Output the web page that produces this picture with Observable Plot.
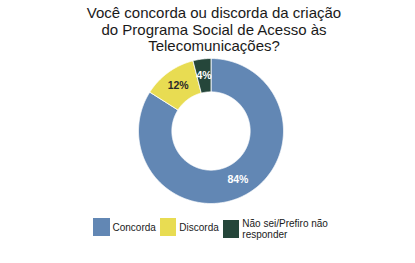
<!DOCTYPE html>
<html>
<head>
<meta charset="utf-8">
<script src="https://cdn.jsdelivr.net/npm/d3@7"></script>
<script src="https://cdn.jsdelivr.net/npm/@observablehq/plot@0.6"></script>
<style>
  html, body { margin: 0; padding: 0; background: #fff; }
  body { width: 415px; height: 263px; position: relative; overflow: hidden; font-family: "Liberation Sans", Arial, sans-serif; }
  #title { position: absolute; left: 13px; top: 5px; width: 402px; text-align: center; font-size: 15px; line-height: 16.5px; color: #1a1a1a; }
  #chart { position: absolute; left: 0; top: 56px; }
  #legend { position: absolute; left: 93px; top: 218px; display: flex; align-items: flex-start; font-size: 10px; line-height: 11px; color: #1a1a1a; }
  .item { display: flex; align-items: center; margin-right: 4px; }
  .sw { width: 16.5px; height: 18px; margin-right: 3px; flex: none; }
  .lab { max-width: 92px; }
</style>
</head>
<body>
<div id="title"></div>
<div id="chart"></div>
<div id="legend"></div>
<script>
const titleLines = ["Você concorda ou discorda da criação", "do Programa Social de Acesso às", "Telecomunicações?"];
const categories = ["Concorda", "Discorda", "Não sei/Prefiro não responder"];
const values = [84, 12, 4];
const labels = ["84%", "12%", "4%"];
const colors = ["#6287b4", "#e8dc52", "#25463a"];
const labelColors = ["#ffffff", "#2a2a2a", "#ffffff"];

document.getElementById("title").innerHTML = titleLines.join("<br>");

const innerR = 0.54, outerR = 1;
const total = d3.sum(values);
let acc = 0;
const slices = categories.map((c, i) => {
  const a0 = acc / total * 2 * Math.PI;
  acc += values[i];
  const a1 = acc / total * 2 * Math.PI;
  return {cat: c, a0, a1, value: values[i], label: labels[i], lc: labelColors[i]};
});

// polygon outlines of each slice, in data units (angle clockwise from top)
const pts = [];
for (const s of slices) {
  const n = Math.max(4, Math.ceil((s.a1 - s.a0) / (Math.PI / 360)));
  const ring = [];
  for (let k = 0; k <= n; k++) {
    const a = s.a0 + (s.a1 - s.a0) * k / n;
    ring.push([outerR * Math.sin(a), outerR * Math.cos(a)]);
  }
  for (let k = n; k >= 0; k--) {
    const a = s.a0 + (s.a1 - s.a0) * k / n;
    ring.push([innerR * Math.sin(a), innerR * Math.cos(a)]);
  }
  ring.push(ring[0]);
  for (const [x, y] of ring) pts.push({cat: s.cat, x, y});
}

const mid = (innerR + outerR) / 2;
const labelData = slices.map(s => {
  const a = (s.a0 + s.a1) / 2;
  return {x: mid * Math.sin(a), y: mid * Math.cos(a), label: s.label, lc: s.lc};
});

const plot = Plot.plot({
  width: 415,
  height: 150,
  marginLeft: 138,
  marginRight: 132,
  marginTop: 2,
  marginBottom: 3,
  x: {domain: [-1, 1], axis: null},
  y: {domain: [-1, 1], axis: null},
  color: {domain: categories, range: colors, legend: false},
  style: {background: "transparent", fontFamily: "'Liberation Sans', Arial, sans-serif"},
  marks: [
    Plot.line(pts, {x: "x", y: "y", z: "cat", fill: "cat", stroke: "white", strokeWidth: 0.8, curve: "linear"}),
    Plot.text(labelData, {x: "x", y: "y", text: "label", fill: "lc", fontSize: 10.5, fontWeight: "bold"})
  ]
});
document.getElementById("chart").appendChild(plot);

const legend = document.getElementById("legend");
categories.forEach((c, i) => {
  const item = document.createElement("div");
  item.className = "item";
  const sw = document.createElement("div");
  sw.className = "sw";
  sw.style.background = colors[i];
  const lab = document.createElement("div");
  lab.className = "lab";
  lab.textContent = c;
  item.appendChild(sw);
  item.appendChild(lab);
  legend.appendChild(item);
});
</script>
</body>
</html>
